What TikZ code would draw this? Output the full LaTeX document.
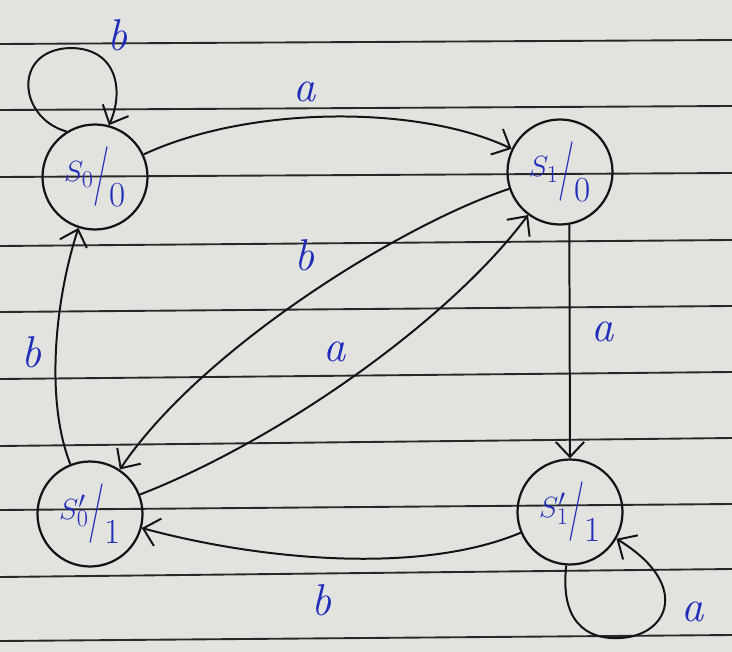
\documentclass[tikz,border=0pt]{standalone}
\usepackage{graphicx}
\usetikzlibrary{arrows.meta}
\definecolor{paper}{RGB}{226,226,223}
\definecolor{ruleline}{RGB}{40,40,40}
\definecolor{ink}{RGB}{32,45,185}
\definecolor{pen}{RGB}{20,20,20}
\tikzset{
  rule/.style={draw=ruleline, line width=1.6pt},
  state/.style={circle, draw=pen, line width=1.9pt, minimum size=3.15cm, inner sep=0pt,
    text=ink, font=\fontsize{30}{30}\selectfont},
  edge/.style={draw=pen, line width=1.7pt, -{Straight Barb[length=0.45cm,width=0.85cm,line width=1.7pt]}},
  lbl/.style={text=ink, font=\fontsize{38}{38}\selectfont\itshape, inner sep=0pt}
}
\newcommand{\stlabel}[2]{\raisebox{0.28em}{#1}\scalebox{1}[1.7]{/}\raisebox{-0.42em}{#2}}
\begin{document}
\begin{tikzpicture}[x=0.03cm,y=-0.03cm]
\useasboundingbox (0,0) rectangle (732,652);
\fill[paper] (0,0) rectangle (732,652);
\foreach \l/\r in {44/40,110/106,177/173,246/240,312/306,379/372,446/438,510/504,577/569,641/635}
  \draw[rule] (0,\l) -- (732,\r);

\node[state] (s0)  at (95,177)  {\stlabel{$S_0$}{0}};
\node[state] (s1)  at (560,172) {\stlabel{$S_1$}{0}};
\node[state] (s0p) at (90,514)  {\stlabel{$S'_0$}{1}};
\node[state] (s1p) at (570,512) {\stlabel{$S'_1$}{1}};

% self loop on S0
\draw[edge] (s0.122) .. controls (18,118) and (12,50) .. (70,48)
                     .. controls (118,48) and (124,92) .. (s0.75);
\node[lbl] (l1) at (118,35) {b};

% S0 -> S1
\draw[edge] (s0) .. controls (250,105) and (420,105) .. (s1);
\node[lbl] (l2) at (305,92) {a};

% S1 -> S0'
\draw[edge] (s1) .. controls (400,225) and (200,350) .. (s0p);
\node[lbl] (l3) at (305,255) {b};

% S0' -> S1
\draw[edge] (s0p) .. controls (280,440) and (450,320) .. (s1);
\node[lbl] (l4) at (335,352) {a};

% S1 -> S1'
\draw[edge] (s1.-80) -- (s1p.north);
\node[lbl] (l5) at (603,332) {a};

% S1' -> S0'
\draw[edge] (s1p) .. controls (420,575) and (260,560) .. (s0p);
\node[lbl] (l6) at (322,600) {b};

% S0' -> S0
\draw[edge] (s0p) .. controls (45,400) and (55,300) .. (s0);
\node[lbl] (l7) at (32,352) {b};

% self loop on S1'
\draw[edge] (s1p.-94) .. controls (560,620) and (585,640) .. (620,638)
                      .. controls (668,636) and (692,585) .. (s1p.-30);
\node[lbl] (l8) at (693,612) {a};
\end{tikzpicture}
\end{document}
